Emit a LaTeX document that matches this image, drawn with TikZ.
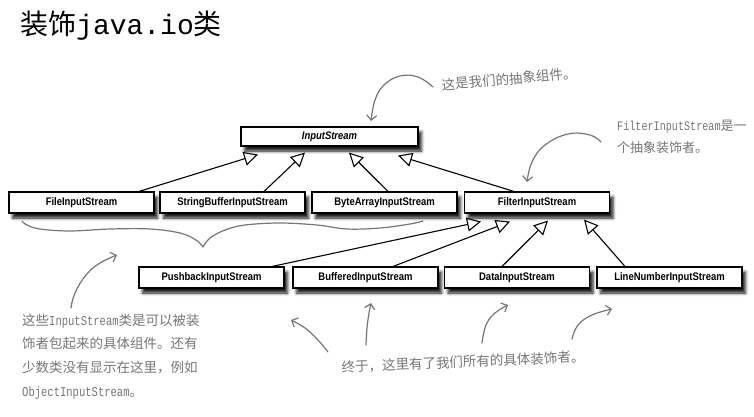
\documentclass[tikz,border=0pt]{standalone}
\usepackage{fontspec}
\setmainfont{Liberation Sans}
\newfontfamily\cjk{Noto Sans CJK SC}
\newfontfamily\titlemono{Liberation Mono}
\newfontfamily\notemono[FakeStretch=0.78]{Liberation Mono}
\newfontfamily\boxfont[FakeStretch=0.86]{Liberation Sans}
\usetikzlibrary{arrows.meta,shadows.blur}

\definecolor{pen}{RGB}{118,118,118}

\tikzset{
  cls/.style={draw=black, line width=1.1pt, fill=white,
    minimum height=21pt, minimum width=145pt, inner sep=0pt,
    font=\boxfont\fontsize{11}{12}\selectfont\bfseries,
    blur shadow={shadow xshift=3.5pt, shadow yshift=-5pt,
      shadow blur radius=3pt, shadow opacity=90}},
  inherit/.style={draw=black, line width=1.1pt,
    -{Triangle[open, length=14pt, width=14pt, line width=1.1pt]}},
  annot/.style={text=pen, font=\cjk\fontsize{13.5}{16}\selectfont, inner sep=0pt},
  hand/.style={draw=pen, line width=1.2pt, line cap=round, line join=round,
    -{Straight Barb[length=5pt, width=10pt]}},
  brace/.style={draw=pen, line width=1.2pt, line cap=round, line join=round},
}

\begin{document}
\begin{tikzpicture}[x=1pt, y=-1pt]
\useasboundingbox (0,0) rectangle (754,416);

% heading
\node[anchor=base west, inner sep=0pt, font=\fontsize{28}{30}\selectfont] (title)
  at (20,34) {\cjk 装饰\titlemono java.io\cjk 类};

% abstract component
\node[cls, minimum width=177pt, minimum height=19pt,
  font=\boxfont\fontsize{11}{12}\selectfont\bfseries\itshape] (input) at (329.5,136.5) {InputStream};

% concrete components and the abstract decorator
\node[cls] (file)   at (81.5,202.5)  {FileInputStream};
\node[cls] (sbuf)   at (232.5,202.5) {StringBufferInputStream};
\node[cls] (barr)   at (384.5,202.5) {ByteArrayInputStream};
\node[cls] (filter) at (537,202.5)   {FilterInputStream};

% concrete decorators
\node[cls] (push) at (211.5,277.5) {PushbackInputStream};
\node[cls] (buff) at (365.5,277.5) {BufferedInputStream};
\node[cls] (data) at (517,277.5)   {DataInputStream};
\node[cls] (line) at (669.5,277.5) {LineNumberInputStream};

% inheritance
\draw[inherit] ([xshift=57.5pt]file.north)  -- ([xshift=-71.5pt,yshift=-8pt]input.south);
\draw[inherit] ([xshift=31.5pt]sbuf.north)  -- ([xshift=-24.5pt,yshift=-6pt]input.south);
\draw[inherit] ([xshift=3.5pt]barr.north)   -- ([xshift=19.5pt,yshift=-6pt]input.south);
\draw[inherit] ([xshift=-23pt]filter.north) -- ([xshift=68.5pt,yshift=-9pt]input.south);

\draw[inherit] ([xshift=60.5pt]push.north)  -- ([xshift=-56pt,yshift=-8pt]filter.south);
\draw[inherit] ([xshift=27.5pt]buff.north)  -- ([xshift=-27pt,yshift=-8pt]filter.south);
\draw[inherit] ([xshift=-15pt]data.north)   -- ([xshift=11pt,yshift=-7pt]filter.south);
\draw[inherit] ([xshift=-44.5pt]line.north) -- ([xshift=47pt,yshift=-6pt]filter.south);

% notes
\node[annot, rotate=5] (topnote) at (509,79) {这是我们的抽象组件。};
\node[annot, anchor=base west, font=\cjk\fontsize{13}{16}\selectfont] (fnoteA) at (617,130) {{\notemono FilterInputStream}是一};
\node[annot, anchor=base west, font=\cjk\fontsize{13}{16}\selectfont] (fnoteB) at (617,152) {个抽象装饰者。};

\node[annot, anchor=base west] (noteA) at (22,325) {这些{\notemono InputStream}类是可以被装};
\node[annot, anchor=base west] (noteB) at (22,348) {饰者包起来的具体组件。还有};
\node[annot, anchor=base west] (noteC) at (22,372) {少数类没有显示在这里，例如};
\node[annot, anchor=base west] (noteD) at (22,396) {{\notemono ObjectInputStream}。};

\node[annot, rotate=2.5] (botnote) at (463,362) {终于，这里有了我们所有的具体装饰者。};

% hand-drawn pointers
\draw[hand] plot[smooth, tension=0.7] coordinates
  {(433,87) (418,77) (400,76) (384,85) (375,100) (371,121)};
\draw[hand] plot[smooth, tension=0.7] coordinates
  {(601,142) (590,135) (568,134) (545,145) (532,162) (527,182)};
\draw[hand] plot[smooth, tension=0.7] coordinates
  {(71,308) (75,293) (86,275) (100,263) (117,255)};
\draw[hand] plot[smooth, tension=0.7] coordinates
  {(328,352) (318,340) (305,328) (291,320)};
\draw[hand] plot[smooth, tension=0.7] coordinates
  {(366,345) (367,328) (369,313) (371,303)};
\draw[hand] plot[smooth, tension=0.7] coordinates
  {(482,343) (486,325) (495,313) (508,305)};
\draw[hand] plot[smooth, tension=0.7] coordinates
  {(572,339) (578,325) (592,315) (612,309)};

% brace under the concrete components
\draw[brace] plot[smooth, tension=0.6] coordinates
  {(22,221) (27,225) (40,229) (70,231) (110,229) (150,229) (180,233) (196,240) (203,247)};
\draw[brace] plot[smooth, tension=0.6] coordinates
  {(203,247) (210,238) (225,230) (245,225) (280,223) (317,225) (347,229) (380,228) (410,224) (423,221)};
\end{tikzpicture}
\end{document}
